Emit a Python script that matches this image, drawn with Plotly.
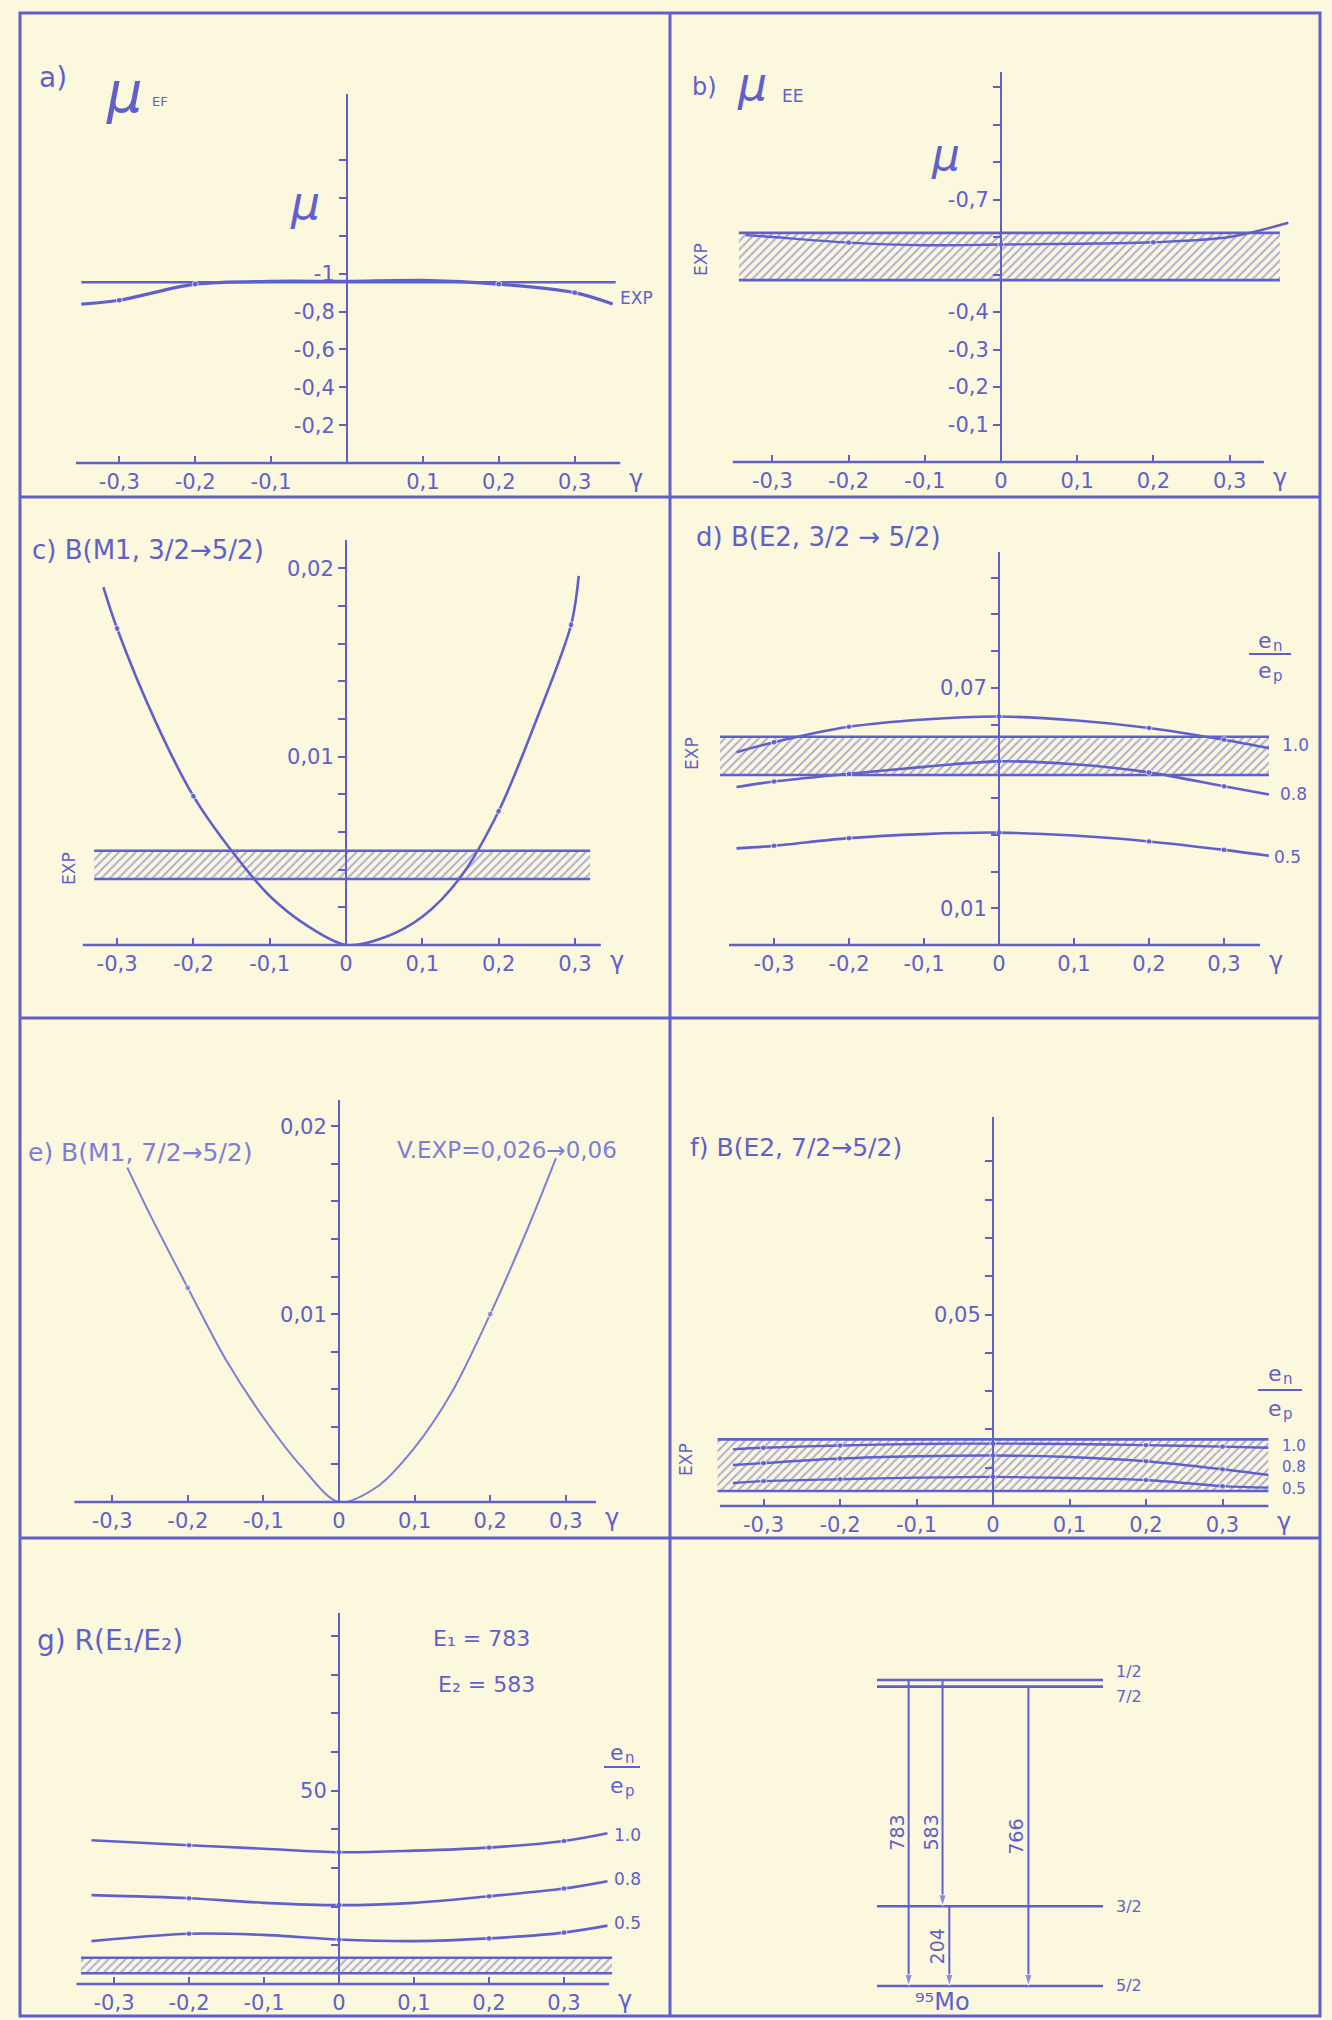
import plotly.graph_objects as go

W, H = 1332, 2020

# ---------------- data ----------------
gamma_ticks = [-0.3, -0.2, -0.1, 0.0, 0.1, 0.2, 0.3]
gamma_text = ["-0,3", "-0,2", "-0,1", "0", "0,1", "0,2", "0,3"]
gamma_ticks_a = [-0.3, -0.2, -0.1, 0.1, 0.2, 0.3]
gamma_text_a = ["-0,3", "-0,2", "-0,1", "0,1", "0,2", "0,3"]

# a) mu_EF
a_gamma = [-0.35, -0.3, -0.2, -0.1, 0.0, 0.1, 0.2, 0.3, 0.35]
a_mu = [-0.84, -0.86, -0.945, -0.96, -0.96, -0.965, -0.945, -0.90, -0.84]
a_exp = -0.955

# b) mu_EE
b_gamma = [-0.335, -0.3, -0.2, -0.1, 0.0, 0.1, 0.2, 0.3, 0.377]
b_mu = [-0.605, -0.600, -0.585, -0.578, -0.580, -0.582, -0.586, -0.600, -0.638]
b_exp_lo, b_exp_hi = -0.485, -0.611

# c) B(M1, 3/2 -> 5/2)
c_gamma = [-0.318, -0.3, -0.25, -0.2, -0.15, -0.1, -0.05, 0.0, 0.05, 0.1, 0.15, 0.2, 0.25, 0.295, 0.305]
c_B = [0.0190, 0.0168, 0.0119, 0.0079, 0.0050, 0.0026, 0.0010, 0.0, 0.0004, 0.0015, 0.0036, 0.0071, 0.0120, 0.0170, 0.0196]
c_exp_lo, c_exp_hi = 0.0035, 0.0050

# d) B(E2, 3/2 -> 5/2) for e_n/e_p = 1.0, 0.8, 0.5
d_gamma = [-0.35, -0.3, -0.2, -0.1, 0.0, 0.1, 0.2, 0.3, 0.36]
d_B_10 = [0.0525, 0.0552, 0.0594, 0.0614, 0.0622, 0.0612, 0.0591, 0.0559, 0.0536]
d_B_08 = [0.0430, 0.0445, 0.0466, 0.0485, 0.0500, 0.0492, 0.0470, 0.0432, 0.0410]
d_B_05 = [0.0263, 0.0270, 0.0291, 0.0302, 0.0306, 0.0298, 0.0282, 0.0259, 0.0243]
d_exp_lo, d_exp_hi = 0.0463, 0.0567

# e) B(M1, 7/2 -> 5/2)
e_gamma = [-0.28, -0.25, -0.2, -0.15, -0.1, -0.05, 0.0, 0.05, 0.1, 0.15, 0.2, 0.25, 0.287]
e_B = [0.0178, 0.0153, 0.0114, 0.0076, 0.0045, 0.0019, 0.0, 0.0008, 0.0029, 0.0059, 0.0100, 0.0146, 0.0183]

# f) B(E2, 7/2 -> 5/2)
f_gamma = [-0.34, -0.3, -0.2, -0.1, 0.0, 0.1, 0.2, 0.3, 0.36]
f_B_10 = [0.0148, 0.0152, 0.0158, 0.0162, 0.0163, 0.0162, 0.0159, 0.0155, 0.0152]
f_B_08 = [0.0107, 0.0112, 0.0124, 0.0130, 0.0132, 0.0128, 0.0117, 0.0096, 0.0081]
f_B_05 = [0.0060, 0.0065, 0.0070, 0.0074, 0.0076, 0.0073, 0.0068, 0.0052, 0.0048]
f_exp_lo, f_exp_hi = 0.0039, 0.0174

# g) R(E1/E2)
g_gamma = [-0.33, -0.2, -0.1, 0.0, 0.1, 0.2, 0.3, 0.358]
g_R_10 = [37.2, 35.9, 35.0, 34.1, 34.5, 35.3, 37.0, 39.0]
g_R_08 = [23.0, 22.2, 21.0, 20.4, 21.0, 22.7, 24.7, 26.6]
g_R_05 = [11.1, 13.0, 12.7, 11.5, 11.1, 11.8, 13.3, 15.1]
g_exp_lo, g_exp_hi = 2.8, 6.8

# level scheme of 95Mo (keV)
level_names = ["5/2", "3/2", "7/2", "1/2"]
level_keV = [0, 204, 766, 783]
trans_from = ["1/2", "1/2", "7/2", "3/2"]
trans_to = ["5/2", "3/2", "5/2", "5/2"]
trans_label = ["783", "583", "766", "204"]

# ---------------- style ----------------
INK = "rgb(96,96,204)"
INK_L = "rgb(126,126,216)"
BG = "rgb(251,248,221)"
FONT = "DejaVu Sans"

fig = go.Figure()
annotations = []
shapes = []


def px(x):
    return x / W


def py(y):
    return 1 - y / H


def ax_id(n):
    return "" if n == 1 else str(n)


def txt(x, y, s, size=22, anchor="center", angle=0, italic=False, color=INK):
    annotations.append(dict(
        x=px(x), y=py(y), xref="paper", yref="paper", text=s, showarrow=False,
        xanchor=anchor, yanchor="middle", textangle=angle,
        font=dict(family=FONT, size=size, color=color,
                  style="italic" if italic else "normal")))


def line_px(x0, y0, x1, y1, w=2.2, color=INK):
    shapes.append(dict(type="line", xref="paper", yref="paper",
                       x0=px(x0), y0=py(y0), x1=px(x1), y1=py(y1),
                       line=dict(color=color, width=w)))


def panel(n, zx, sx, y0, ytop, yrange, ymajor, ytext, yminor, xtv, xtt, ext):
    i = ax_id(n)
    fig.update_layout(**{
        f"xaxis{i}": dict(domain=[px(zx - 0.4 * sx), px(zx + 0.4 * sx)], range=[-0.4, 0.4],
                          anchor=f"y{i}", showline=False, zeroline=False, showgrid=False,
                          ticks="inside", ticklen=7, tickwidth=2, tickcolor=INK,
                          tickvals=xtv, ticktext=xtt, ticklabelstandoff=4,
                          tickfont=dict(family=FONT, size=21, color=INK)),
        f"yaxis{i}": dict(domain=[py(y0), py(ytop)], range=yrange, anchor="free",
                          position=px(zx), showline=True, linecolor=INK, linewidth=2,
                          zeroline=False, showgrid=False, ticks="outside", ticklen=7,
                          tickwidth=2, tickcolor=INK, tickvals=ymajor, ticktext=ytext,
                          tickfont=dict(family=FONT, size=21, color=INK),
                          minor=dict(tickvals=yminor, ticks="outside", ticklen=7,
                                     tickwidth=2, tickcolor=INK, showgrid=False)),
    })
    # x axis line (drawn at y = 0)
    line_px(zx + ext[0] * sx, y0, zx + ext[1] * sx, y0, w=2.4)
    txt(zx + ext[1] * sx + 16, y0 + 16, "γ", size=24)


def curve(n, xs, ys, marks, width=2.6, color=INK):
    i = ax_id(n)
    sizes = [6 if any(abs(x - m) < 1e-9 for m in marks) else 0 for x in xs]
    fig.add_trace(go.Scatter(x=xs, y=ys, mode="lines+markers", xaxis=f"x{i}", yaxis=f"y{i}",
                             line=dict(color=color, width=width, shape="spline", smoothing=0.9),
                             marker=dict(size=sizes, color=color), hoverinfo="skip"))


def band(n, x0, x1, lo, hi):
    i = ax_id(n)
    fig.add_trace(go.Scatter(x=[x0, x1, x1, x0, x0], y=[lo, lo, hi, hi, lo], mode="lines",
                             fill="toself", xaxis=f"x{i}", yaxis=f"y{i}",
                             line=dict(width=0, color="rgba(0,0,0,0)"),
                             fillcolor="rgba(0,0,0,0)",
                             fillpattern=dict(shape="/", fgcolor=INK, bgcolor="rgba(0,0,0,0)",
                                              size=6, solidity=0.32),
                             hoverinfo="skip"))
    for v in (lo, hi):
        fig.add_trace(go.Scatter(x=[x0, x1], y=[v, v], mode="lines", xaxis=f"x{i}", yaxis=f"y{i}",
                                 line=dict(color=INK, width=2.6), hoverinfo="skip"))


def frac(cx, y_top, y_bar, y_bot, half=21, size=22):
    txt(cx - 5, y_top, "e", size=size)
    txt(cx + 8, y_top + 6, "n", size=int(size * 0.7))
    line_px(cx - half, y_bar, cx + half, y_bar, w=2)
    txt(cx - 5, y_bot, "e", size=size)
    txt(cx + 8, y_bot + 6, "p", size=int(size * 0.7))


def steps(step, k0, k1, skip=(), nd=4):
    return [round(step * k, nd) for k in range(k0, k1 + 1) if k not in skip]


# ---------------- panel a ----------------
panel(1, 347, 759, 463, 94, [0, -1.95],
      [-0.2, -0.4, -0.6, -0.8, -1.0], ["-0,2", "-0,4", "-0,6", "-0,8", "-1"],
      [-1.2, -1.4, -1.6], gamma_ticks_a, gamma_text_a, (-0.357, 0.36))
fig.add_trace(go.Scatter(x=[-0.35, 0.354], y=[a_exp, a_exp], mode="lines", xaxis="x", yaxis="y",
                         line=dict(color=INK, width=2.4), hoverinfo="skip"))
curve(1, a_gamma, a_mu, [-0.3, -0.2, 0.2, 0.3], width=3.2)
txt(37, 77, "a)", size=28, anchor="left")
txt(104, 92, "μ", size=56, anchor="left", italic=True)
txt(150, 101, "EF", size=13, anchor="left")
txt(305, 203, "μ", size=46, italic=True)
txt(618, 298, "EXP", size=17, anchor="left")

# ---------------- panel b ----------------
panel(2, 1001, 762, 462, 72, [0, -1.04],
      [-0.1, -0.2, -0.3, -0.4, -0.7], ["-0,1", "-0,2", "-0,3", "-0,4", "-0,7"],
      [-0.5, -0.6, -0.8, -0.9, -1.0], gamma_ticks, gamma_text, (-0.352, 0.345))
band(2, -0.344, 0.366, b_exp_lo, b_exp_hi)
curve(2, b_gamma, b_mu, [-0.2, 0.0, 0.2], width=2.4)
txt(690, 87, "b)", size=24, anchor="left")
txt(735, 84, "μ", size=46, anchor="left", italic=True)
txt(780, 96, "EE", size=17, anchor="left")
txt(945, 155, "μ", size=44, italic=True)
txt(701, 260, "EXP", size=17, angle=-90)

# ---------------- panel c ----------------
panel(3, 346, 763, 945, 540, [0, 0.0215],
      [0.01, 0.02], ["0,01", "0,02"], steps(0.002, 1, 9, skip=(5,)),
      gamma_ticks, gamma_text, (-0.345, 0.334))
band(3, -0.33, 0.32, c_exp_lo, c_exp_hi)
curve(3, c_gamma, c_B, [-0.3, -0.2, 0.2, 0.295], width=2.6)
txt(30, 550, "c) B(M1, 3/2→5/2)", size=26, anchor="left")
txt(69, 869, "EXP", size=17, angle=-90)

# ---------------- panel d ----------------
panel(4, 999, 750, 945, 552, [0, 0.107],
      [0.01, 0.07], ["0,01", "0,07"], steps(0.01, 2, 10, skip=(7,)),
      gamma_ticks, gamma_text, (-0.36, 0.348))
band(4, -0.372, 0.36, d_exp_lo, d_exp_hi)
for ys in (d_B_10, d_B_08, d_B_05):
    curve(4, d_gamma, ys, [-0.3, -0.2, 0.0, 0.2, 0.3], width=2.6)
txt(694, 537, "d) B(E2, 3/2 → 5/2)", size=26, anchor="left")
txt(692, 753, "EXP", size=17, angle=-90)
frac(1270, 640, 654, 670)
txt(1280, 745, "1.0", size=17, anchor="left")
txt(1278, 794, "0.8", size=17, anchor="left")
txt(1272, 857, "0.5", size=17, anchor="left")

# ---------------- panel e ----------------
panel(5, 339, 756, 1502, 1100, [0, 0.0214],
      [0.01, 0.02], ["0,01", "0,02"], steps(0.002, 1, 9, skip=(5,)),
      gamma_ticks, gamma_text, (-0.35, 0.34))
curve(5, e_gamma, e_B, [-0.2, 0.2], width=2.0, color=INK_L)
txt(26, 1152, "e) B(M1, 7/2→5/2)", size=25, anchor="left", color=INK_L)
txt(395, 1150, "V.EXP=0,026→0,06", size=23, anchor="left", color=INK_L)

# ---------------- panel f ----------------
panel(6, 993, 765, 1506, 1117, [0, 0.1016],
      [0.05], ["0,05"], steps(0.01, 1, 9, skip=(5,)),
      gamma_ticks, gamma_text, (-0.357, 0.36))
band(6, -0.36, 0.36, f_exp_lo, f_exp_hi)
for ys in (f_B_10, f_B_08, f_B_05):
    curve(6, f_gamma, ys, [-0.3, -0.2, 0.0, 0.2, 0.3], width=2.4)
txt(688, 1147, "f) B(E2, 7/2→5/2)", size=25, anchor="left")
txt(686, 1460, "EXP", size=17, angle=-90)
frac(1280, 1373, 1390, 1408, half=22)
txt(1280, 1446, "1.0", size=15, anchor="left")
txt(1280, 1467, "0.8", size=15, anchor="left")
txt(1280, 1489, "0.5", size=15, anchor="left")

# ---------------- panel g ----------------
panel(7, 339, 750, 1984, 1613, [0, 96],
      [50], ["50"], steps(10, 1, 9, skip=(5,), nd=0),
      gamma_ticks, gamma_text, (-0.35, 0.36))
band(7, -0.344, 0.364, g_exp_lo, g_exp_hi)
for ys in (g_R_10, g_R_08, g_R_05):
    curve(7, g_gamma, ys, [-0.2, 0.0, 0.2, 0.3], width=2.6)
txt(35, 1640, "g) R(E₁/E₂)", size=28, anchor="left")
txt(431, 1638, "E₁ = 783", size=22, anchor="left")
txt(436, 1684, "E₂ = 583", size=22, anchor="left")
frac(622, 1752, 1767, 1785, half=18)
txt(612, 1835, "1.0", size=17, anchor="left")
txt(612, 1879, "0.8", size=17, anchor="left")
txt(612, 1923, "0.5", size=17, anchor="left")

# ---------------- level scheme ----------------
lv_y0, lv_y1 = 1986, 1680            # pixel rows of lowest / highest level
lv_s = (lv_y0 - lv_y1) / max(level_keV)
lv_x0, lv_x1 = 877, 1103
pad_k, pad_x = 30, 0.05
fig.update_layout(
    xaxis8=dict(domain=[px(lv_x0 - pad_x * (lv_x1 - lv_x0)), px(lv_x1 + pad_x * (lv_x1 - lv_x0))],
                range=[-pad_x, 1 + pad_x], visible=False, anchor="y8"),
    yaxis8=dict(domain=[py(lv_y0 + pad_k * lv_s), py(lv_y1 - pad_k * lv_s)],
                range=[-pad_k, max(level_keV) + pad_k], visible=False, anchor="x8"),
)
E = dict(zip(level_names, level_keV))
for name, e in zip(level_names, level_keV):
    fig.add_trace(go.Scatter(x=[0, 1], y=[e, e], mode="lines", xaxis="x8", yaxis="y8",
                             line=dict(color=INK, width=2.6), hoverinfo="skip"))
lbl_shift = {"1/2": 8, "7/2": -10, "3/2": 0, "5/2": 0}
for name, e in zip(level_names, level_keV):
    annotations.append(dict(x=1.05, y=e, xref="x8", yref="y8", text=name, showarrow=False,
                            xanchor="left", yanchor="middle", yshift=lbl_shift[name],
                            font=dict(family=FONT, size=16, color=INK)))
arrow_x = {"783": 0.14, "583": 0.29, "766": 0.67, "204": 0.32}
for f_, t_, lab in zip(trans_from, trans_to, trans_label):
    xa = arrow_x[lab]
    fig.add_trace(go.Scatter(x=[xa, xa], y=[E[f_], E[t_]], mode="lines+markers",
                             xaxis="x8", yaxis="y8", line=dict(color=INK, width=2),
                             marker=dict(symbol=["circle", "arrow"], size=[0, 12],
                                         angleref="previous", color=INK),
                             cliponaxis=False, hoverinfo="skip"))
    annotations.append(dict(x=xa, y=E[f_] / 2, xref="x8", yref="y8", text=lab, showarrow=False,
                            xanchor="center", yanchor="middle", xshift=-12, textangle=-90,
                            font=dict(family=FONT, size=19, color=INK)))
txt(943, 2002, "⁹⁵Mo", size=24)

# ---------------- frame ----------------
shapes.append(dict(type="rect", xref="paper", yref="paper", x0=px(20), y0=py(2016), x1=px(1320), y1=py(13),
                   line=dict(color=INK, width=3)))
line_px(670, 13, 670, 2016, w=3)
for yy in (497, 1018, 1538):
    line_px(20, yy, 1320, yy, w=3)

fig.update_layout(width=W, height=H, margin=dict(l=0, r=0, t=0, b=0), paper_bgcolor=BG,
                  plot_bgcolor="rgba(0,0,0,0)", showlegend=False,
                  annotations=annotations, shapes=shapes)
fig.write_html("out.html")
